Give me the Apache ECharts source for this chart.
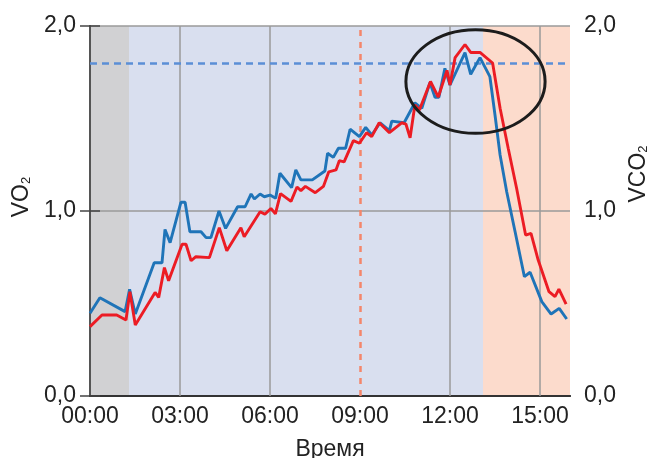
<!DOCTYPE html>
<html>
<head>
<meta charset="utf-8">
<script src="https://cdn.jsdelivr.net/npm/echarts@6/dist/echarts.min.js"></script>
<style>
  html, body { margin: 0; padding: 0; background: #ffffff; }
  #chart { width: 651px; height: 458px; }
</style>
</head>
<body>
<div id="chart"></div>
<script>
// Gas exchange during an incremental test: [minute, L/min]
const vo2Points = [
  [0, 0.447], [0.33, 0.531], [1.17, 0.456], [1.32, 0.577], [1.51, 0.443],
  [2.14, 0.72], [2.4, 0.72], [2.5, 0.90], [2.67, 0.829], [3.03, 1.047],
  [3.17, 1.047], [3.33, 0.888], [3.7, 0.888], [3.87, 0.856], [4.03, 0.856],
  [4.3, 1.0], [4.52, 0.906], [4.92, 1.023], [5.17, 1.023], [5.37, 1.092],
  [5.48, 1.065], [5.67, 1.092], [5.81, 1.077], [6.0, 1.086], [6.19, 1.069],
  [6.33, 1.204], [6.72, 1.126], [6.86, 1.222], [7.03, 1.168], [7.41, 1.168],
  [7.83, 1.216], [7.92, 1.312], [8.11, 1.29], [8.28, 1.339], [8.52, 1.339],
  [8.67, 1.442], [8.98, 1.402], [9.19, 1.452], [9.39, 1.411], [9.67, 1.477],
  [9.98, 1.434], [10.06, 1.486], [10.47, 1.477], [10.83, 1.585], [11.06, 1.555],
  [11.33, 1.694], [11.5, 1.615], [11.63, 1.615], [11.83, 1.771], [12.0, 1.681],
  [12.5, 1.856], [12.69, 1.739], [13.0, 1.829], [13.33, 1.726], [13.5, 1.519],
  [13.67, 1.303], [13.89, 1.104], [14.17, 0.888], [14.48, 0.645], [14.67, 0.669],
  [15.06, 0.51], [15.37, 0.443], [15.64, 0.474], [15.89, 0.416]
];

const vco2Points = [
  [0, 0.375], [0.4, 0.438], [0.89, 0.438], [1.2, 0.411], [1.33, 0.564],
  [1.51, 0.384], [2.17, 0.56], [2.29, 0.533], [2.48, 0.694], [2.62, 0.623],
  [3.07, 0.82], [3.2, 0.82], [3.37, 0.731], [3.53, 0.753], [3.98, 0.748],
  [4.31, 0.91], [4.56, 0.785], [5.03, 0.91], [5.14, 0.861], [5.67, 0.996],
  [5.83, 0.982], [6.03, 1.014], [6.18, 0.984], [6.35, 1.094], [6.7, 1.052],
  [6.9, 1.13], [7.03, 1.11], [7.18, 1.133], [7.51, 1.099], [7.78, 1.133],
  [7.96, 1.212], [8.2, 1.222], [8.31, 1.272], [8.47, 1.266], [8.78, 1.38],
  [8.98, 1.366], [9.22, 1.423], [9.39, 1.402], [9.64, 1.477], [9.98, 1.423],
  [10.39, 1.477], [10.53, 1.47], [10.67, 1.396], [10.83, 1.573], [10.98, 1.546],
  [11.35, 1.70], [11.61, 1.616], [11.9, 1.76], [12.0, 1.681], [12.17, 1.829],
  [12.5, 1.90], [12.69, 1.857], [13.0, 1.857], [13.42, 1.80], [13.67, 1.555],
  [13.94, 1.339], [14.22, 1.123], [14.52, 0.87], [14.7, 0.879], [14.94, 0.735],
  [15.3, 0.564], [15.5, 0.537], [15.63, 0.578], [15.87, 0.496]
];

// Test phases (minutes): rest, ramp, recovery
const phaseEdges = [0, 1.3, 13.1, 16];
// Vertical reference lines on the time axis
const gridMinutes = [3, 6, 12, 15];
const markerMinute = 9;
// Horizontal reference level
const thresholdLevel = 1.8;
// Highlighted peak region: centre and half-extents in data units
const peakRegion = { t: 12.85, v: 1.70, dt: 2.32, dv: 0.28 };

const FONT = 'Liberation Sans, Arial, sans-serif';
const TEXT = '#222222';
const phaseColors = ['#d1d1d3', '#d9dfef', '#fcdbcc'];

const chart = echarts.init(document.getElementById('chart'), null, { renderer: 'canvas' });

const fmtY = v => v.toFixed(1).replace('.', ',');
const fmtX = v => (v > 15.5 ? '' : String(v).padStart(2, '0') + ':00');

const bands = [];
for (let i = 0; i < phaseEdges.length - 1; i++) {
  bands.push([
    { xAxis: phaseEdges[i], itemStyle: { color: phaseColors[i] } },
    { xAxis: phaseEdges[i + 1] }
  ]);
}

const refLines = gridMinutes.map(m => ({
  xAxis: m, lineStyle: { color: '#9a9a9a', width: 1.5, type: 'solid' }
}));
refLines.push({ yAxis: thresholdLevel, lineStyle: { color: '#5b8fd6', width: 2.5, type: [7, 5] } });
refLines.push({ xAxis: markerMinute, lineStyle: { color: '#f4866b', width: 2.5, type: [6, 6] } });

const nameRich = {
  a: { fontSize: 23, fontFamily: FONT, color: TEXT },
  s: { fontSize: 13, fontFamily: FONT, color: TEXT, verticalAlign: 'bottom' }
};

const yBase = {
  type: 'value', min: 0, max: 2, interval: 1, z: 1.5,
  axisLine: { show: true, lineStyle: { color: '#555555', width: 2 } },
  axisTick: { show: true, length: 10, lineStyle: { color: '#444444', width: 1.5 } },
  axisLabel: { margin: 14, fontSize: 23, fontFamily: FONT, color: TEXT, formatter: fmtY },
  nameLocation: 'middle', nameRotate: 90
};

chart.setOption({
  animation: false,
  backgroundColor: '#ffffff',
  grid: { left: 90, right: 81, top: 26, bottom: 62, containLabel: false, outerBoundsMode: 'none' },
  xAxis: [
    {
      type: 'value', min: 0, max: 16, interval: 3, position: 'bottom', z: 1.5,
      axisLine: { show: true, lineStyle: { color: '#444444', width: 2 } },
      axisTick: { show: false },
      splitLine: { show: false },
      axisLabel: { margin: 9, fontSize: 23, fontFamily: FONT, color: TEXT, formatter: fmtX },
      name: 'Время', nameLocation: 'middle', nameGap: 42,
      nameTextStyle: { fontSize: 23, fontFamily: FONT, color: TEXT }
    },
    {
      type: 'value', min: 0, max: 16, position: 'top', z: 1.5,
      axisLine: { show: true, lineStyle: { color: '#333333', width: 2 } },
      axisTick: { show: false }, axisLabel: { show: false }, splitLine: { show: false }
    }
  ],
  yAxis: [
    Object.assign({}, yBase, {
      position: 'left',
      splitLine: { show: true, lineStyle: { color: '#9a9a9a', width: 1.5 } },
      name: '{a|VO}{s|2}', nameGap: 52,
      nameTextStyle: { padding: [0, 0, 0, 28], rich: nameRich }
    }),
    Object.assign({}, yBase, {
      position: 'right',
      splitLine: { show: false },
      name: '{a|VCO}{s|2}', nameGap: 52,
      nameTextStyle: { padding: [0, 0, 0, 74], rich: nameRich }
    })
  ],
  series: [
    {
      name: 'VO2', type: 'line', xAxisIndex: 0, yAxisIndex: 0,
      data: vo2Points, showSymbol: false, symbol: 'none',
      lineStyle: { color: '#1f74b8', width: 2.9 },
      markArea: { silent: true, z: 1, data: bands }
    },
    {
      name: 'VCO2', type: 'line', xAxisIndex: 0, yAxisIndex: 0,
      data: vco2Points, showSymbol: false, symbol: 'none',
      lineStyle: { color: '#ec1c24', width: 2.9 },
      markLine: {
        silent: true, z: 1.6, symbol: ['none', 'none'],
        label: { show: false }, data: refLines
      }
    }
  ]
});

// Outline around the peak region, sized in data units
const c = chart.convertToPixel({ gridIndex: 0 }, [peakRegion.t, peakRegion.v]);
const ex = chart.convertToPixel({ gridIndex: 0 }, [peakRegion.t + peakRegion.dt, peakRegion.v]);
const ey = chart.convertToPixel({ gridIndex: 0 }, [peakRegion.t, peakRegion.v + peakRegion.dv]);
chart.setOption({
  graphic: [{
    type: 'ellipse', z: 100, silent: true,
    shape: { cx: c[0], cy: c[1], rx: ex[0] - c[0], ry: c[1] - ey[1] },
    style: { fill: 'none', stroke: '#1c1c1c', lineWidth: 3 }
  }]
});
</script>
</body>
</html>
